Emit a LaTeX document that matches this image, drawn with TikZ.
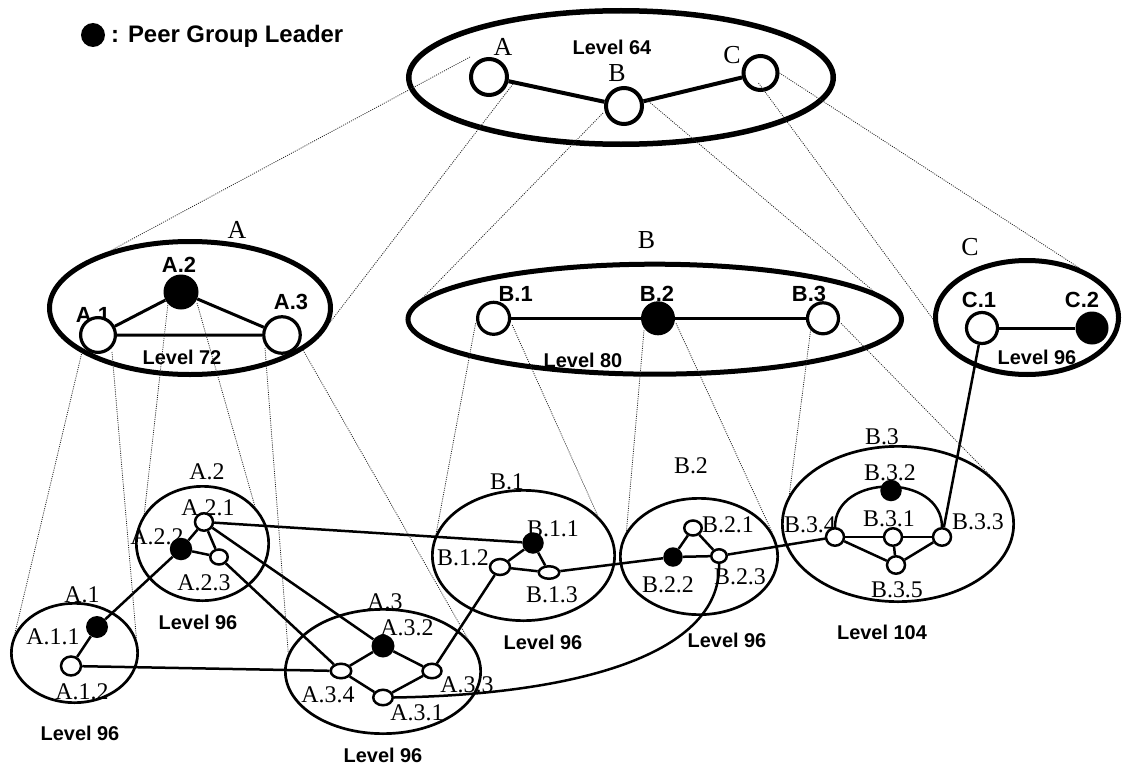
\documentclass[tikz,border=0pt]{standalone}
\usepackage{fontspec}
\setmainfont{Liberation Serif}
\newfontfamily\lsans{Liberation Sans}
\usetikzlibrary{shapes.geometric,calc}
\pgfdeclarelayer{bg}\pgfdeclarelayer{fg}\pgfsetlayers{bg,main,fg}
\begin{document}
\begin{tikzpicture}[x=1bp,y=-1bp,
 topring/.style={ellipse,draw,inner sep=0pt,line width=5.5bp},
 midring/.style={ellipse,draw,inner sep=0pt,line width=5bp},
 lowring/.style={ellipse,draw,inner sep=0pt,line width=2.7bp},
 topnode/.style={circle,draw,fill=white,inner sep=0pt,line width=4bp,minimum size=#1},
 midnode/.style={circle,draw,fill=white,inner sep=0pt,line width=3.2bp,minimum size=#1},
 lead/.style={circle,fill=black,inner sep=0pt,minimum size=#1},
 lownode/.style 2 args={ellipse,draw,fill=white,inner sep=0pt,line width=2.5bp,minimum width=#1,minimum height=#2},
 topedge/.style={line width=4bp},
 midedge/.style={line width=3bp},
 lowedge/.style={line width=2.5bp},
 proj/.style={line width=0.8bp,dash pattern=on 1bp off 1.2bp,black!85},
 lvl/.style={font=\lsans\bfseries\fontsize{20}{24}\selectfont,inner sep=0pt},
 blab/.style={font=\lsans\bfseries\fontsize{22}{26}\selectfont,inner sep=0pt},
 slab/.style={font=\fontsize{24}{28}\selectfont,inner sep=0pt},
 tlab/.style={font=\fontsize{26}{30}\selectfont,inner sep=0pt},
 legend/.style={font=\lsans\bfseries\fontsize{24}{28}\selectfont,inner sep=0pt}]
\useasboundingbox (0,0) rectangle (1123,767);

% ---------- nodes (main layer) ----------
\node[lead=24bp] (legdot) at (93,35) {};
\node[legend,anchor=base west] (legtxt) at (111,42.3) {: Peer Group Leader};

\node[topnode=36bp] (tA) at (489,77) {};
\node[topnode=36bp] (tB) at (624,106) {};
\node[topnode=34bp] (tC) at (760.5,73) {};

\node[midnode=34.8bp] (mA1) at (98,335) {};
\node[lead=35bp] (mA2) at (181,292) {};
\node[midnode=36.5bp] (mA3) at (282,335) {};
\node[midnode=32bp] (mB1) at (493.6,318.3) {};
\node[lead=34bp] (mB2) at (658,318.3) {};
\node[midnode=31bp] (mB3) at (823,318.3) {};
\node[midnode=31bp] (mC1) at (982,328) {};
\node[lead=33bp] (mC2) at (1092,328) {};

\node[lead=22bp] (A11) at (97,627) {};
\node[lownode={20bp}{19bp}] (A12) at (71,666) {};
\node[lownode={18bp}{17.5bp}] (A21) at (204,522) {};
\node[lead=22.5bp] (A22) at (181,549) {};
\node[lownode={17.5bp}{15bp}] (A23) at (219,557) {};
\node[lead=23bp] (A32) at (383,646) {};
\node[lownode={20.5bp}{14.5bp}] (A34) at (341,671) {};
\node[lownode={19bp}{14.5bp}] (A33) at (432,671) {};
\node[lownode={19.5bp}{15.5bp}] (A31) at (383,697.5) {};
\node[lead=21.5bp] (B11) at (533,543) {};
\node[lownode={20bp}{16bp}] (B12) at (500,567) {};
\node[lownode={20.5bp}{12.5bp}] (B13) at (549,572.5) {};
\node[lownode={17.5bp}{15bp}] (B21) at (693,528) {};
\node[lead=19.5bp] (B22) at (673,557) {};
\node[lownode={15.5bp}{13.5bp}] (B23) at (719,556) {};
\node[lownode={18bp}{17.5bp}] (B34) at (835,537) {};
\node[lownode={18bp}{17.5bp}] (B31) at (893,537) {};
\node[lownode={18bp}{17.5bp}] (B33) at (942,537) {};
\node[lownode={18bp}{17.5bp}] (B35) at (896,565) {};
\node[lead=21.5bp] (B32) at (891,490.5) {};

% ---------- background: rings, labels, edges ----------
\begin{pgfonlayer}{bg}
\node[topring,minimum width=424.5bp,minimum height=133.5bp] (E64) at (621,77.5) {};
\node[midring,minimum width=281bp,minimum height=133bp] (EA) at (190,308) {};
\node[midring,minimum width=493.5bp,minimum height=110bp] (EB) at (654.75,319.2) {};
\node[midring,minimum width=183bp,minimum height=114bp] (EC) at (1027,317.5) {};
\node[lowring,minimum width=126.3bp,minimum height=99.3bp] (EA1) at (74.5,653) {};
\node[lowring,minimum width=132.3bp,minimum height=114.3bp] (EA2) at (202.5,543.5) {};
\node[lowring,minimum width=195.3bp,minimum height=124.3bp] (EA3) at (383,671.5) {};
\node[lowring,minimum width=182.3bp,minimum height=130.3bp] (EB1) at (523.5,555.5) {};
\node[lowring,minimum width=157.3bp,minimum height=116.3bp] (EB2) at (699,556.5) {};
\node[lowring,minimum width=231.3bp,minimum height=155.3bp] (EB3) at (898,524) {};

% labels
\node[tlab] (ltA) at (503,47) {A};
\node[tlab] (ltB) at (617,73) {B};
\node[tlab] (ltC) at (732,55) {C};
\node[lvl] (lv64) at (612,47) {Level 64};

\node[tlab] (lEA) at (237,230) {A};
\node[blab] (lmA2) at (179,265) {A.2};
\node[blab] (lmA1) at (93,315) {A.1};
\node[blab] (lmA3) at (291,302) {A.3};
\node[lvl] (lv72) at (182,357) {Level 72};

\node[tlab] (lEB) at (646.5,240) {B};
\node[blab] (lmB1) at (515.7,294) {B.1};
\node[blab] (lmB2) at (657,294) {B.2};
\node[blab] (lmB3) at (809,294) {B.3};
\node[lvl] (lv80) at (583,360) {Level 80};

\node[tlab] (lEC) at (970,247) {C};
\node[blab] (lmC1) at (979,300) {C.1};
\node[blab] (lmC2) at (1082,300) {C.2};
\node[lvl] (lvC) at (1037,357) {Level 96};

\node[slab] (lEA1) at (82,595) {A.1};
\node[slab] (lA11) at (53,637) {A.1.1};
\node[slab] (lA12) at (82,692) {A.1.2};
\node[lvl] (lvA1) at (80,733) {Level 96};

\node[slab] (lEA2) at (207,472) {A.2};
\node[slab] (lA21) at (208,508) {A.2.1};
\node[slab] (lA22) at (157,537) {A.2.2};
\node[slab] (lA23) at (204,583) {A.2.3};
\node[lvl] (lvA2) at (198,622) {Level 96};

\node[slab] (lEA3) at (385,602) {A.3};
\node[slab] (lA32) at (407,628) {A.3.2};
\node[slab] (lA34) at (328,695) {A.3.4};
\node[slab] (lA33) at (467,685) {A.3.3};
\node[slab] (lA31) at (417,713) {A.3.1};
\node[lvl] (lvA3) at (383,755.5) {Level 96};

\node[slab] (lEB1) at (507,482) {B.1};
\node[slab] (lB11) at (553,529) {B.1.1};
\node[slab] (lB12) at (463,558) {B.1.2};
\node[slab] (lB13) at (552,595) {B.1.3};
\node[lvl] (lvB1) at (543,642) {Level 96};

\node[slab] (lEB2) at (691,466) {B.2};
\node[slab] (lB21) at (728,525) {B.2.1};
\node[slab] (lB22) at (668,585) {B.2.2};
\node[slab] (lB23) at (740,577) {B.2.3};
\node[lvl] (lvB2) at (727,640) {Level 96};

\node[slab] (lEB3) at (882,437) {B.3};
\node[slab] (lB32) at (890,473) {B.3.2};
\node[slab] (lB31) at (889,519) {B.3.1};
\node[slab] (lB34) at (810,525) {B.3.4};
\node[slab] (lB33) at (978,522) {B.3.3};
\node[slab] (lB35) at (897,590) {B.3.5};
\node[lvl] (lvB3) at (882,632) {Level 104};

% edges
\draw[topedge] (tA) -- (tB) -- (tC);
\draw[midedge] (mA1) -- (mA2) -- (mA3) -- (mA1);
\draw[midedge] (mB1) -- (mB2) -- (mB3);
\draw[midedge] (mC1) -- (mC2);
\draw[lowedge] (mC1) -- (B33);

\draw[lowedge] (A11) -- (A12);
\draw[lowedge] (A22) -- (A11);
\draw[lowedge] (A21) -- (A22) -- (A23) -- (A21);
\draw[lowedge] (A21) -- (A32);
\draw[lowedge] (A23) -- (A34);
\draw[lowedge] (A12) -- (A34);
\draw[lowedge] (A34) -- (A32) -- (A33) -- (A31) -- (A34);
\draw[lowedge] (A33) -- (B12);
\draw[lowedge] (A21) -- (B11);
\draw[lowedge] (B11) -- (B12) -- (B13) -- (B11);
\draw[lowedge] (B13) -- (B22);
\draw[lowedge] (B21) -- (B22) -- (B23) -- (B21);
\draw[lowedge] (B23) -- (B34);
\draw[lowedge] (B34) -- (B31) -- (B33);
\draw[lowedge] (B31) -- (B35);
\draw[lowedge] (B34) -- (B35) -- (B33);
\draw[lowedge] (B34.north) .. controls +(0,-54) and +(0,-54) .. (B33.north);
\draw[lowedge] (A31.east) .. controls (560,695) and (722,660) .. (B23.south);
\end{pgfonlayer}

% ---------- projection lines (on top) ----------
\begin{pgfonlayer}{fg}
\draw[proj] ($(tA)+(-19,-20)$) -- (EA.144);
\draw[proj] ($(tA)+(24,7)$) -- (EA.-6);
\draw[proj] ($(tB)+(-21,7)$) -- (EB.175);
\draw[proj] ($(tB)+(23,-6)$) -- (EB.7);
\draw[proj] ($(tC)+(-2,10)$) -- (EC.181);
\draw[proj] ($(tC)+(19,0)$) -- (EC.43);

\draw[proj] ($(mA1)+(-16,17)$) -- (EA1.162);
\draw[proj] ($(mA1)+(14,17)$) -- (EA1.13);
\draw[proj] ($(mA2)+(-13,11)$) -- (EA2.153);
\draw[proj] ($(mA2)+(16,11)$) -- (EA2.35);
\draw[proj] ($(mA3)+(-17,13)$) -- (EA3.169);
\draw[proj] ($(mA3)+(21,15)$) -- (EA3.21);
\draw[proj] ($(mB1)+(-18,5)$) -- (EB1.166);
\draw[proj] ($(mB1)+(18.6,6.7)$) -- (EB1.28);
\draw[proj] ($(mB2)+(-14,12)$) -- (EB2.161);
\draw[proj] ($(mB2)+(18,5)$) -- (EB2.18);
\draw[proj] ($(mB3)+(-12,9)$) -- (EB3.165);
\draw[proj] ($(mB3)+(18,5)$) -- (EB3.20);
\end{pgfonlayer}
\end{tikzpicture}
\end{document}
